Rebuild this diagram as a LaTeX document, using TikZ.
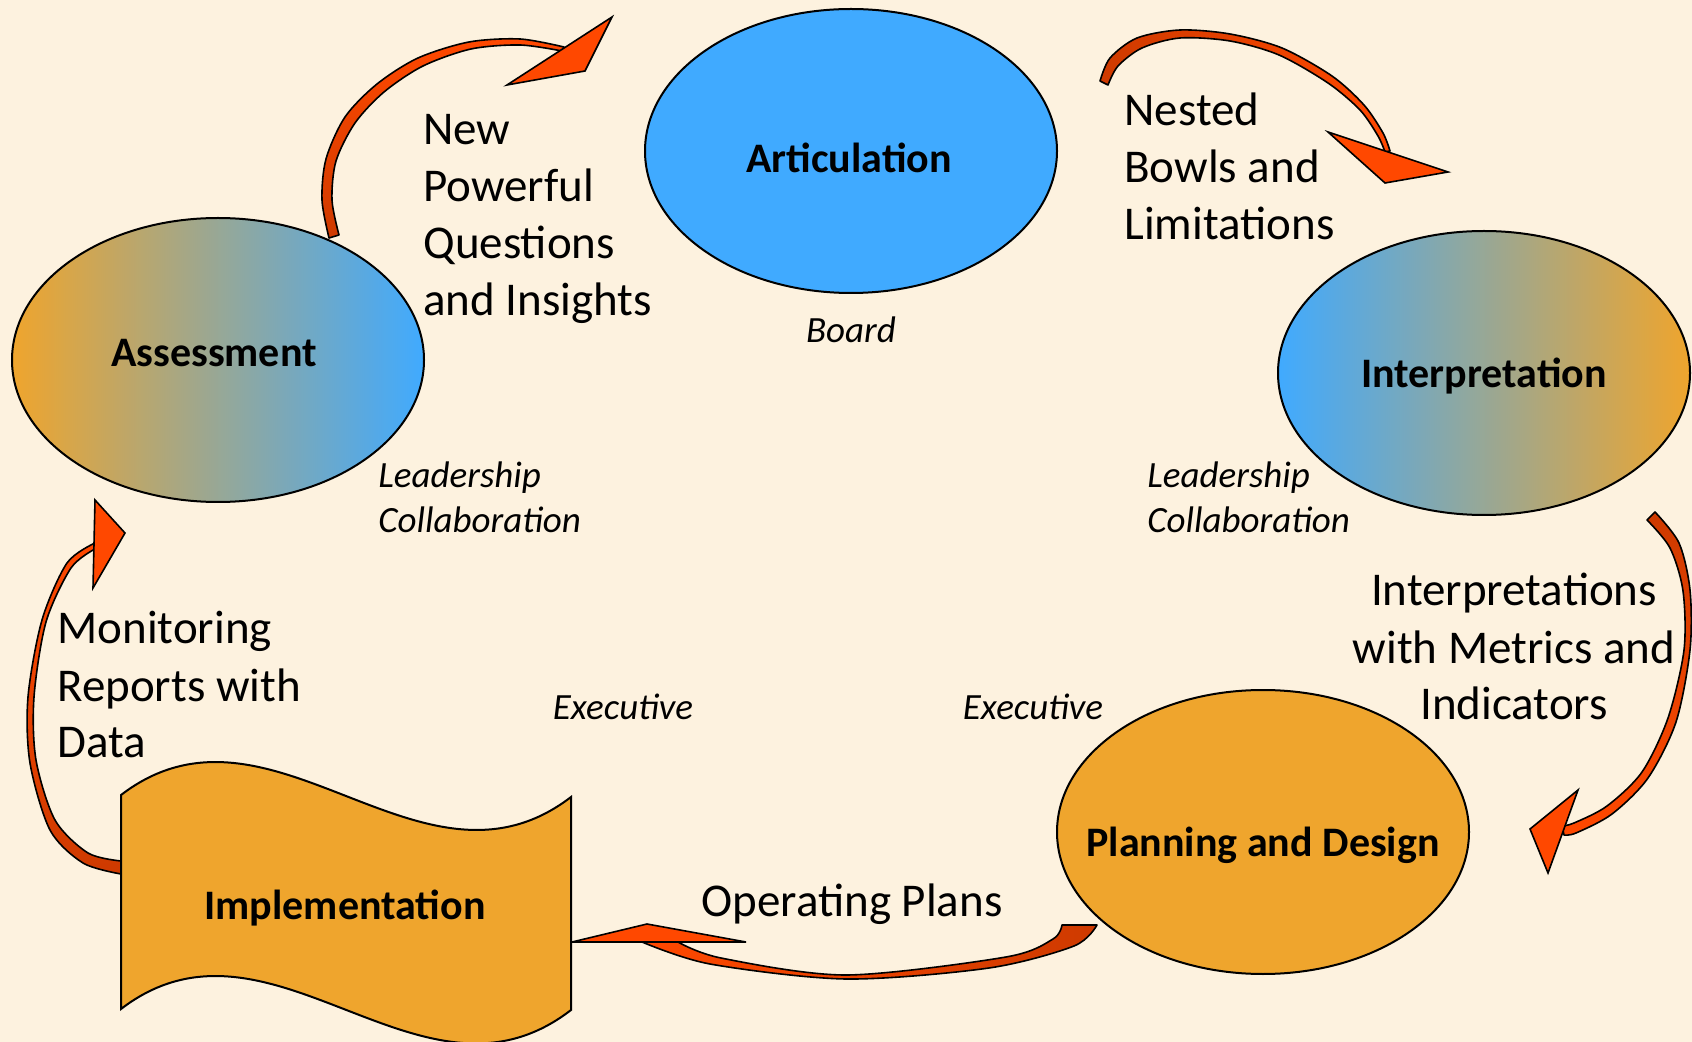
\documentclass[tikz,border=0pt]{standalone}
\usepackage{fontspec}
\setmainfont{Carlito}
\usetikzlibrary{shapes.geometric}
\definecolor{bg}{RGB}{253,242,223}
\definecolor{skyb}{RGB}{64,170,255}
\definecolor{amber}{RGB}{239,165,45}
\definecolor{arrowhi}{RGB}{255,72,0}
\definecolor{arrowlo}{RGB}{206,58,0}
\tikzset{
  stage/.style={ellipse, draw=black, line width=1pt, minimum width=206pt, minimum height=142pt, inner sep=0pt},
  stagelabel/.style={font=\fontsize{21}{25}\selectfont\bfseries, anchor=base, inner sep=0pt},
  biglabel/.style={font=\fontsize{23.5}{28.5}\selectfont, anchor=base west, inner sep=0pt},
  rolelabel/.style={font=\fontsize{18.5}{22.5}\selectfont\itshape, inner sep=0pt},
  headstyle/.style={fill=arrowhi, draw=black, line width=0.8pt, line join=miter},
  shaftstyle/.style={draw=black, line width=0.8pt, line join=round},
}
\begin{document}
\begin{tikzpicture}[x=0.5pt, y=-0.5pt]
\useasboundingbox (0,0) rectangle (1692,1042);
\fill[bg] (0,0) rectangle (1692,1042);

% arrow: Assessment -> Articulation
\draw[shaftstyle, top color=arrowhi, bottom color=arrowlo]
  plot[smooth] coordinates {(329,238) (322,200) (326,159) (345,117) (377,84) (418,58) (469,42) (520,39) (564,47)}
  -- plot[smooth] coordinates {(562,51) (520,45) (471,49) (423,66) (384,92) (355,123) (336,161) (332,200) (339,235)} -- cycle;
\draw[headstyle] (507,85) -- (612,17) -- (585,71) -- cycle;

% arrow: Articulation -> Interpretation
\draw[shaftstyle, left color=arrowlo, right color=arrowhi]
  plot[smooth] coordinates {(1100,81) (1110,58) (1137,38) (1180,30) (1230,34) (1282,48) (1332,76) (1364,105) (1383,133) (1390,151)}
  -- plot[smooth] coordinates {(1385,152) (1378,136) (1360,110) (1328,83) (1279,55) (1230,41) (1180,38) (1142,48) (1118,66) (1108,85)} -- cycle;
\draw[headstyle] (1328,132) -- (1448,172) -- (1385,183) -- cycle;

% arrow: Interpretation -> Planning
\draw[shaftstyle, top color=arrowlo, bottom color=arrowhi]
  plot[smooth] coordinates {(1655,512) (1679,543) (1690,590) (1690,650) (1676,722) (1648,778) (1612,814) (1576,833) (1564,835)}
  -- plot[smooth] coordinates {(1562,826) (1574,823) (1607,806) (1642,772) (1668,718) (1684,650) (1683,591) (1670,548) (1647,520)} -- cycle;
\draw[headstyle] (1578,790) -- (1530,829) -- (1548,873) -- cycle;

% arrow: Planning -> Implementation
\draw[shaftstyle, left color=arrowhi, right color=arrowlo]
  plot[smooth] coordinates {(642,942) (710,964) (846,979) (989,968) (1074,946) (1097,925)}
  -- plot[smooth] coordinates {(1062,925) (1053,939) (1006,957) (846,975) (721,958) (678,942)} -- cycle;
\draw[headstyle] (572,942) -- (647,924) -- (746,942) -- cycle;

% arrow: Implementation -> Assessment
\draw[shaftstyle, top color=arrowhi, bottom color=arrowlo]
  plot[smooth] coordinates {(95,543) (67,563) (42,620) (28,697) (30,763) (50,830) (83,863) (121,874)}
  -- plot[smooth] coordinates {(121,861) (88,853) (55,820) (36,760) (34,697) (46,622) (71,568) (95,549)} -- cycle;
\draw[headstyle] (95,500) -- (125,533) -- (93,588) -- cycle;

% stages
\node[stage, fill=skyb] (art) at (851,151) {};
\node[stage, left color=amber, right color=skyb] (ass) at (218,360) {};
\node[stage, left color=skyb, right color=amber] (int) at (1484,373) {};
\node[stage, fill=amber] (plan) at (1263,832) {};
\draw[fill=amber, line width=1pt] (121,795) .. controls (271,680) and (421,912) .. (571,797)
  -- (571,1010) .. controls (421,1126) and (271,894) .. (121,1009) -- cycle;

\node[stagelabel] (artl) at (849,173) {Articulation};
\node[stagelabel] (assl) at (214,367) {Assessment};
\node[stagelabel] (intl) at (1484,388) {Interpretation};
\node[stagelabel] (planl) at (1263,856) {Planning and Design};
\node[stagelabel] (impl) at (345,919) {Implementation};

% flow labels
\node[biglabel] (q) at (423,145) {\begin{tabular}[t]{@{}l@{}}New\\Powerful\\Questions\\and Insights\end{tabular}};
\node[biglabel] (n) at (1124,126) {\begin{tabular}[t]{@{}l@{}}Nested\\Bowls and\\Limitations\end{tabular}};
\node[biglabel] (m) at (57,644) {\begin{tabular}[t]{@{}l@{}}Monitoring\\Reports with\\Data\end{tabular}};
\node[biglabel, anchor=base] (im) at (1514,606) {\begin{tabular}[t]{@{}c@{}}Interpretations\\with Metrics and\\Indicators\end{tabular}};
\node[biglabel, anchor=base] (op) at (852,916) {Operating Plans};

% role labels
\node[rolelabel, anchor=base] (board) at (851,343) {Board};
\node[rolelabel, anchor=base west] (lc1) at (378,488) {\begin{tabular}[t]{@{}l@{}}Leadership\\Collaboration\end{tabular}};
\node[rolelabel, anchor=base west] (lc2) at (1147,488) {\begin{tabular}[t]{@{}l@{}}Leadership\\Collaboration\end{tabular}};
\node[rolelabel, anchor=base] (ex1) at (623,719) {Executive};
\node[rolelabel, anchor=base] (ex2) at (1033,719) {Executive};
\end{tikzpicture}
\end{document}
